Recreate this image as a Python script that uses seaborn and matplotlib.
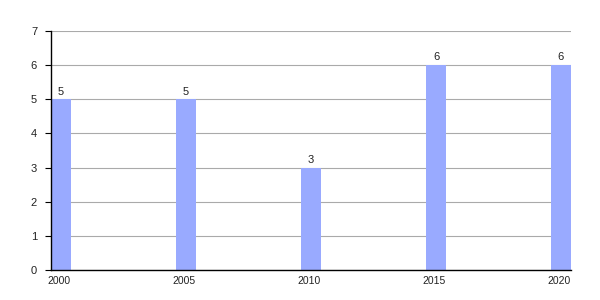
import matplotlib
matplotlib.use("Agg")
import matplotlib.pyplot as plt
import matplotlib.transforms as mtransforms
import seaborn as sns
import pandas as pd

years = [2000, 2005, 2010, 2015, 2020]
values = [5, 5, 3, 6, 6]
year_labels = ["2000", "2005", "2010", "2015", "2020"]

sns.set_style("white")
plt.rcParams['font.family'] = ['Liberation Sans', 'DejaVu Sans']

df = pd.DataFrame({"year": years, "value": values})

fig = plt.figure(figsize=(6, 3), dpi=100)
ax = fig.add_axes([51/600, 30/300, 520/600, 239/300])

sns.barplot(data=df, x="year", y="value", native_scale=True, width=0.16,
            color="#99aaff", saturation=1, ax=ax, zorder=2, edgecolor="none")

ax.set_xlim(1999.6, 2020.4)
ax.set_ylim(0, 7)
ax.set_yticks(range(0, 8))
ax.set_xticks(years)
ax.set_xticklabels(year_labels)
ax.set_xlabel("")
ax.set_ylabel("")

ax.grid(axis="y", color="#aaaaaa", linewidth=0.8, zorder=0)
ax.grid(axis="x", visible=False)
ax.set_axisbelow(True)

for s in ["top", "right"]:
    ax.spines[s].set_visible(False)
for s in ["left", "bottom"]:
    ax.spines[s].set_color("black")
    ax.spines[s].set_linewidth(1)

ax.tick_params(axis="y", left=True, length=4, width=0.8, color="black",
               labelsize=8, labelcolor="#222222", pad=6)
ax.tick_params(axis="x", bottom=False, labelsize=7.5, labelcolor="#222222", pad=1)

offset = mtransforms.ScaledTranslation(-2/100, 0, fig.dpi_scale_trans)
for lbl in ax.get_xticklabels():
    lbl.set_transform(lbl.get_transform() + offset)

for c in ax.containers:
    ax.bar_label(c, labels=[str(v) for v in values], padding=2, fontsize=8, color="#222222")

fig.savefig("out.png", dpi=100)
